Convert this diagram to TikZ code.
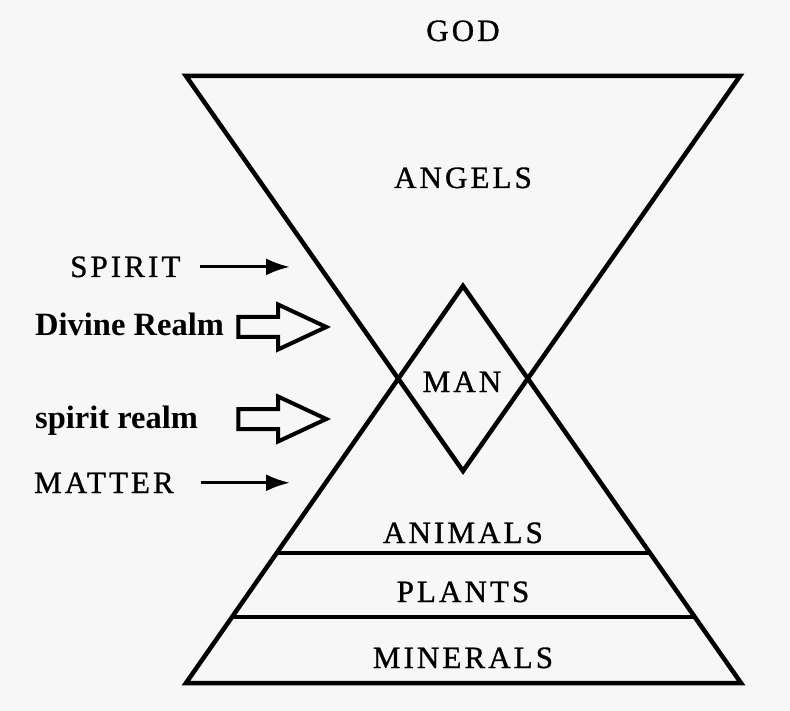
\documentclass[tikz,border=0pt]{standalone}
\usepackage{fontspec}
\setmainfont{Liberation Serif}
\newfontfamily\capsfont[LetterSpace=10,FakeBold=1]{Liberation Serif}
\usetikzlibrary{shapes.arrows,arrows.meta,calc}
\definecolor{paper}{RGB}{247,247,247}

\begin{document}
\begin{tikzpicture}[x=1pt,y=-1pt,
    label/.style = {font=\capsfont\fontsize{31}{37}\selectfont, inner sep=0pt},
    realm/.style = {font=\bfseries\fontsize{32.5}{38}\selectfont, inner sep=0pt},
    side/.style = {line width=4.5pt},
    layer/.style = {line width=4pt},
    pointer/.style = {line width=3pt, -{Latex[length=24pt,width=17pt]}},
    blockarrow/.style = {single arrow, draw, line width=4pt, minimum height=88pt, inner xsep=0pt, inner ysep=8pt, single arrow head extend=12.5pt, single arrow tip angle=50}]
                \useasboundingbox (0,0) rectangle (790,711);
                \fill[paper] (0,0) rectangle (790,711);
                % the two triangles
                \coordinate (tl) at (186,76);
                \coordinate (tr) at (740,76);
                \coordinate (tb) at (463,471);
                \coordinate (bl) at (186,683);
                \coordinate (br) at (741,683);
                \coordinate (bt) at (463,286);
                \draw[side] (tl) -- (tr) -- (tb) -- cycle;
                \draw[side] (bl) -- (br) -- (bt) -- cycle;
                \draw[layer] ($(bl)!0.3275!(bt)$) -- ($(br)!0.3275!(bt)$);
                \draw[layer] ($(bl)!0.166!(bt)$) -- ($(br)!0.166!(bt)$);
                % levels
                \node[label, anchor=base] (god) at (463,41) {GOD};
                \node[label, anchor=base] (angels) at (463,188) {ANGELS};
                \node[label, anchor=base] (man) at (462,392) {MAN};
                \node[label, anchor=base] (animals) at (463,543) {ANIMALS};
                \node[label, anchor=base] (plants) at (463,602) {PLANTS};
                \node[label, anchor=base] (minerals) at (463,668) {MINERALS};
                % left side
                \node[label, anchor=base west] (spirit) at (70,277) {SPIRIT};
                \node[label, anchor=base west] (matter) at (34,493) {MATTER};
                \coordinate (spirittip) at (290,268);
                \coordinate (mattertip) at (290,483);
                \draw[pointer, shorten <=19pt] (spirit.east) -- (spirit.east -| spirittip);
                \draw[pointer, shorten <=27pt] (matter.east) -- (matter.east -| mattertip);
                \node[realm, anchor=base west] (divine) at (35,336) {Divine Realm};
                \node[realm, anchor=base west] (spiritrealm) at (35,428) {spirit realm};
                \node[blockarrow, anchor=tip] (divinearrow) at (331,327) {};
                \node[blockarrow, anchor=tip] (spiritarrow) at (331,419) {};
            \end{tikzpicture}
\end{document}
